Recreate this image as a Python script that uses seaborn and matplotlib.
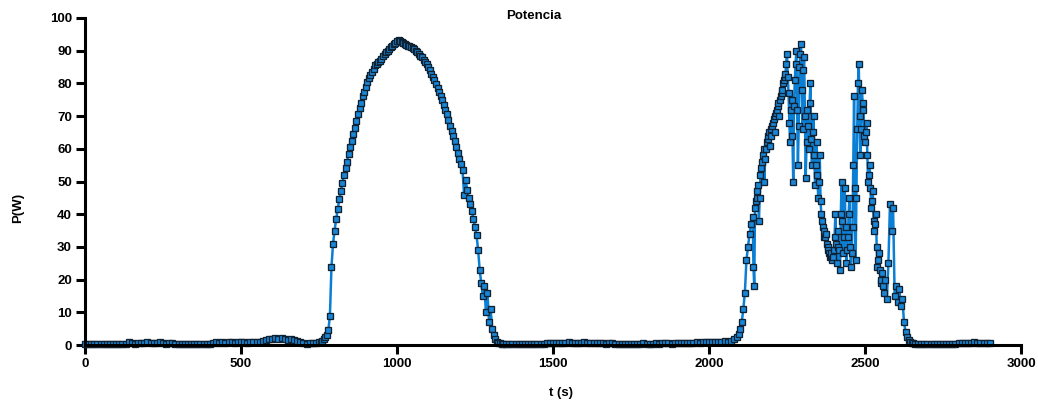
import numpy as np
import pandas as pd
import matplotlib
matplotlib.use("Agg")
import matplotlib.pyplot as plt
import seaborn as sns

# ---- data ----
# segment 1: 0..750 s, every 10 s
p_seg1 = [0.3, 0.3, 0.2, 0.3, 0.3, 0.2, 0.3, 0.3, 0.3, 0.2, 0.3, 0.3, 0.3, 0.4,
          0.8, 0.5, 0.4, 0.6, 0.7, 0.5, 0.8, 0.6, 0.5, 0.7, 0.8, 0.5, 0.4, 0.6, 0.7, 0.4,
          0.3, 0.3, 0.2, 0.3, 0.3, 0.3, 0.2, 0.3, 0.3, 0.3, 0.4,
          0.7, 0.8, 0.6, 0.9, 0.7, 0.8, 0.9, 0.7, 0.8, 0.9, 0.8, 0.7, 0.9, 0.8, 1.0, 0.9, 1.1,
          1.4, 1.8, 1.9, 2.0, 1.7, 2.1, 1.8, 1.6, 1.9, 1.5, 1.2, 0.8,
          0.5, 0.4, 0.5, 0.6, 0.5, 0.9]
t_seg1_start, t_seg1_step = 0, 10

# segment 2: 755..1340 s, every 5 s (first bell)
p_seg2 = [0.8, 1.2, 1.8, 2.5, 3.2, 4.5, 9.0, 24.0, 31.0, 35.0,
          38.5, 41.5, 44.5, 47.0, 49.5, 52.0, 54.0, 56.0, 58.5, 60.5,
          62.5, 64.5, 66.5, 68.5, 70.5, 72.5, 74.0, 76.0, 77.5, 79.0,
          80.5, 81.5, 82.5, 83.5, 84.5, 85.5, 86.0, 86.5, 87.0, 87.5,
          88.5, 89.0, 89.5, 90.0, 90.5, 91.0, 91.5, 92.0, 92.5, 93.0,
          93.2, 93.0, 92.6, 92.3, 92.0, 91.8, 91.5, 91.3, 91.0, 90.8,
          90.4, 90.0, 89.5, 89.0, 88.5, 88.0, 87.3, 86.5, 85.8, 85.0,
          84.0, 83.0, 82.0, 81.0, 79.8, 78.5, 77.3, 76.0, 74.8, 73.5,
          72.0, 70.5, 68.8, 67.0, 65.5, 64.0, 62.3, 60.5, 58.8, 57.0,
          55.2, 53.5, 46.0, 50.5, 47.5, 45.0, 43.0, 41.0, 38.5, 36.0,
          33.5, 29.0, 23.0, 19.0, 15.0, 18.0, 10.0, 16.0, 7.0, 11.0,
          5.0, 3.0, 1.8, 1.0, 0.7, 0.5, 0.4, 0.3]
t_seg2_start, t_seg2_step = 755, 5

# segment 3: 1350..2090 s, every 10 s
p_seg3 = [0.3, 0.3, 0.4, 0.3, 0.3, 0.2, 0.3, 0.3, 0.4, 0.3,
          0.3, 0.3, 0.4, 0.5, 0.6, 0.5, 0.7, 0.6, 0.5, 0.7,
          0.8, 0.6, 0.5, 0.7, 0.6, 0.8, 0.7, 0.6, 0.5, 0.6,
          0.7, 0.5, 0.4, 0.5, 0.6, 0.4, 0.3, 0.4, 0.3, 0.3,
          0.4, 0.3, 0.3, 0.4, 0.5, 0.4, 0.3, 0.4, 0.5, 0.4,
          0.5, 0.6, 0.5, 0.4, 0.5, 0.6, 0.5, 0.6, 0.7, 0.6,
          0.7, 0.8, 0.7, 0.8, 0.9, 0.8, 0.9, 1.0, 0.9, 1.0,
          1.1, 1.0, 1.3, 1.8, 2.5]
t_seg3_start, t_seg3_step = 1350, 10

# segment 4: 2095..2660 s, every 5 s (second, noisy bell)
p_seg4 = [3.5, 5, 7, 11, 16, 26, 30, 34, 37, 39,
          18, 44, 47, 38, 52, 56, 60, 57, 62, 64,
          61, 66, 68, 65, 71, 73, 70, 76, 78, 81,
          83, 89, 77, 62, 75, 50, 81, 90, 55, 85,
          92, 66, 88, 51, 72, 60, 80, 55, 70, 49,
          62, 45, 58, 40, 36, 33, 34, 30, 28, 27,
          26, 29, 40, 25, 35, 23, 50, 28, 48, 25,
          33, 45, 24, 36, 76, 26, 66, 86, 58, 78,
          72, 62, 68, 50, 55, 42, 47, 35, 40, 24,
          28, 19, 22, 16, 20, 14, 25, 43, 35, 42,
          15, 18, 13, 17, 12, 14, 7, 4, 2.5, 1.5,
          1.0, 0.7, 0.5, 0.4]
t_seg4_start, t_seg4_step = 2095, 5

# segment 4b: extra samples in between, 2142.5..2557.5 s, every 5 s
p_seg4b = [24, 42, 45, 49, 45, 54, 58, 50, 60, 63,
           65, 64, 67, 69, 70, 72, 74, 75, 77, 80,
           82, 86, 82, 68, 72, 64, 73, 86, 72, 67,
           89, 78, 84, 70, 62, 67, 74, 63, 65, 58,
           55, 52, 50, 44, 38, 35, 33, 31, 29, 27,
           28, 27, 33, 31, 30, 29, 40, 38, 33, 36,
           29, 40, 30, 28, 55, 48, 45, 80, 70, 66,
           74, 64, 65, 58, 52, 48, 44, 38, 37, 30,
           26, 23, 20, 18]
t_seg4b_start, t_seg4b_step = 2142.5, 5

# segment 5: 2670..2900 s, every 10 s
p_seg5 = [0.3, 0.3, 0.2, 0.3, 0.3, 0.3, 0.2, 0.3, 0.3, 0.4,
          0.3, 0.4, 0.3, 0.5, 0.6, 0.5, 0.7, 0.6, 0.8, 0.6,
          0.7, 0.5, 0.6, 0.5]
t_seg5_start, t_seg5_step = 2670, 10

x_ticks = [0, 500, 1000, 1500, 2000, 2500, 3000]
y_ticks = [0, 10, 20, 30, 40, 50, 60, 70, 80, 90, 100]
title = "Potencia"
x_label = "t (s)"
y_label = "P(W)"

# ---- assemble ----
segs = [(p_seg1, t_seg1_start, t_seg1_step), (p_seg2, t_seg2_start, t_seg2_step),
        (p_seg3, t_seg3_start, t_seg3_step), (p_seg4, t_seg4_start, t_seg4_step),
        (p_seg4b, t_seg4b_start, t_seg4b_step), (p_seg5, t_seg5_start, t_seg5_step)]
ts, ps = [], []
for p, s, st in segs:
    ts.append(s + st * np.arange(len(p)))
    ps.append(np.asarray(p, dtype=float))
df = pd.DataFrame({"t": np.concatenate(ts), "P": np.concatenate(ps)})
df = df.sort_values("t").reset_index(drop=True)

sns.set_style("ticks")
plt.rcParams["font.family"] = ["Liberation Sans", "DejaVu Sans"]
plt.rcParams["font.weight"] = "bold"
plt.rcParams["text.color"] = "black"

W, H = 1038, 403
fig = plt.figure(figsize=(W / 100, H / 100), dpi=100)
ax = fig.add_axes([85 / W, 1 - 345 / H, (1021 - 85) / W, (345 - 18) / H])

sns.lineplot(data=df, x="t", y="P", ax=ax, color="#0a7fd4", linewidth=1.8,
             marker="s", markersize=4.3, markerfacecolor="#1a86d6",
             markeredgecolor="#0f2233", markeredgewidth=0.95, estimator=None, sort=False)

ax.set_xlim(0, 3000)
ax.set_ylim(0, 100)
ax.set_xticks(x_ticks)
ax.set_yticks(y_ticks)
ax.tick_params(axis="both", direction="out", width=2.2, length=6.5, labelsize=9.5,
               colors="black", pad=3)
for lab in ax.get_xticklabels() + ax.get_yticklabels():
    lab.set_fontweight("bold")
for side in ["left", "bottom"]:
    ax.spines[side].set_linewidth(2.2)
    ax.spines[side].set_color("black")
sns.despine(ax=ax)
for ln in ax.lines:
    ln.set_clip_on(False)

ax.set_xlabel("")
ax.set_ylabel("")
fig.text(561 / W, 1 - 393 / H, x_label, ha="center", va="center",
         fontsize=9.5, fontweight="bold", color="black")
fig.text(18 / W, 1 - 208 / H, y_label, ha="center", va="center", rotation=90,
         fontsize=9.5, fontweight="bold", color="black")
fig.text(534 / W, 1 - 16 / H, title, ha="center", va="center",
         fontsize=9.5, fontweight="bold", color="black")

fig.savefig("out.png", dpi=100)
